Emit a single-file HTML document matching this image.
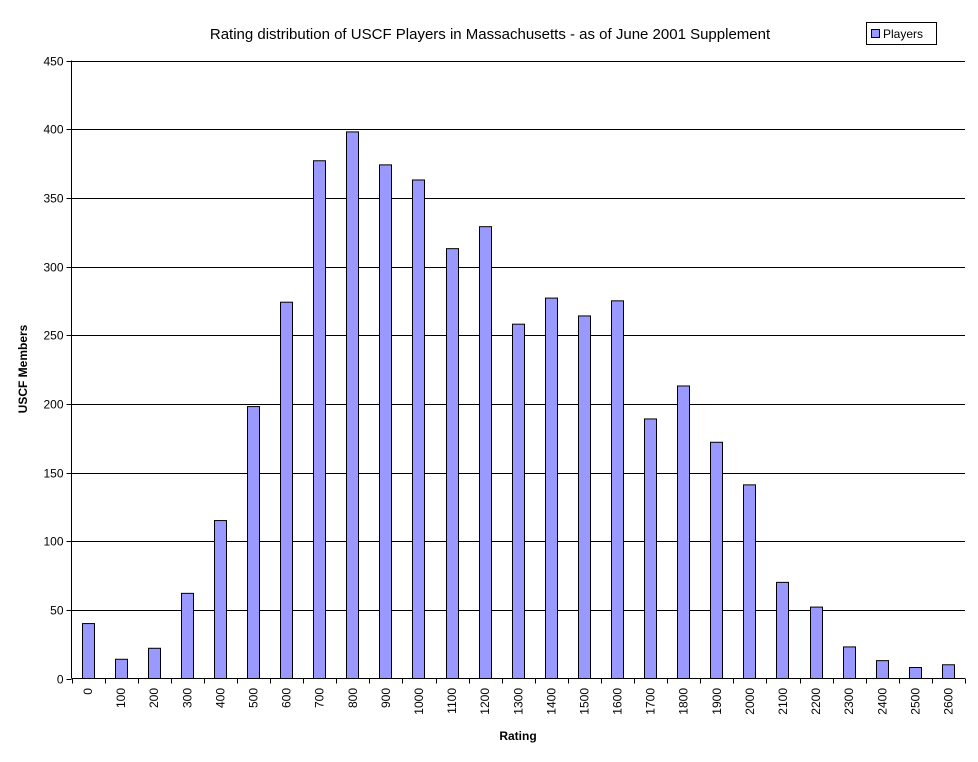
<!DOCTYPE html>
<html><head><meta charset="utf-8"><style>
body{margin:0;background:#fff;font-family:"Liberation Sans",Arial,sans-serif;}
svg text{font-family:"Liberation Sans",Arial,sans-serif;}
</style></head><body>
<svg id="chart" width="978" height="757" xmlns="http://www.w3.org/2000/svg">
<rect x="0" y="0" width="978" height="757" fill="#fff"/>
<text x="490" y="39" text-anchor="middle" font-size="15" font-weight="normal">Rating distribution of USCF Players in Massachusetts  - as of June 2001 Supplement</text>
<g>
<rect x="866.5" y="22.5" width="70" height="22" fill="#fff" stroke="#000"/>
<rect x="871.5" y="29.5" width="8" height="8" fill="#9999ff" stroke="#000"/>
<text x="883" y="38" font-size="12">Players</text>
</g>
<text transform="translate(27,369) rotate(-90)" text-anchor="middle" font-size="12" font-weight="bold">USCF Members</text>
<text x="518" y="740" text-anchor="middle" font-size="12" font-weight="bold">Rating</text>
<g id="grid"></g><g id="bars"></g><g id="axes"></g>
</svg>
<script>
const categories=["0","100","200","300","400","500","600","700","800","900","1000","1100","1200","1300","1400","1500","1600","1700","1800","1900","2000","2100","2200","2300","2400","2500","2600"];
const players=[40,14,22,62,115,198,274,377,398,374,363,313,329,258,277,264,275,189,213,172,141,70,52,23,13,8,10];
const yTicks=[0,50,100,150,200,250,300,350,400,450];
const NS="http://www.w3.org/2000/svg";
const X0=71.5,X1=965,Y0=678.5,Y1=60.5,YMAX=450;
const cw=(X1-X0)/categories.length;
const y=v=>Y0-(v/YMAX)*(Y0-Y1);
const xc=i=>X0+i*cw;
function mk(t,a,p){const e=document.createElementNS(NS,t);for(const k in a)e.setAttribute(k,a[k]);p.appendChild(e);return e;}
const grid=document.getElementById('grid'),bars=document.getElementById('bars'),axes=document.getElementById('axes');
yTicks.forEach(t=>{
 const yy=Math.round(y(t))+0.5;
 if(t>0){const g=mk('line',{x1:X0,x2:X1,y1:yy,y2:yy,stroke:'#000'},grid);
 
 }
 mk('line',{x1:X0-5,x2:X0,y1:yy,y2:yy,stroke:'#000'},axes);
 const l=mk('text',{x:X0-8,y:yy+4,'text-anchor':'end','font-size':12},axes);l.textContent=t;
 
 
});
players.forEach((v,i)=>{
 const r=mk('rect',{x:Math.round(xc(i)+10)+0.5,y:y(v),width:12,height:Y0-y(v),fill:'#9999ff',stroke:'#000'},bars);
 
 
});
mk('line',{x1:X0,x2:X0,y1:Y1,y2:Y0,stroke:'#000'},axes);
mk('line',{x1:X0,x2:X1,y1:Y0,y2:Y0,stroke:'#000'},axes);
categories.forEach((c,i)=>{
 const xx=Math.round(xc(i))+0.5;
 mk('line',{x1:xx,x2:xx,y1:Y0,y2:Y0+5,stroke:'#000'},axes);
 const cx=xc(i)+cw/2+4;
 const l=mk('text',{transform:`translate(${cx},688) rotate(-90)`,'text-anchor':'end','font-size':12},axes);l.textContent=c;
 
 
});
mk('line',{x1:X1+0.5,x2:X1+0.5,y1:Y0,y2:Y0+5,stroke:'#000'},axes);
</script>
</body></html>
